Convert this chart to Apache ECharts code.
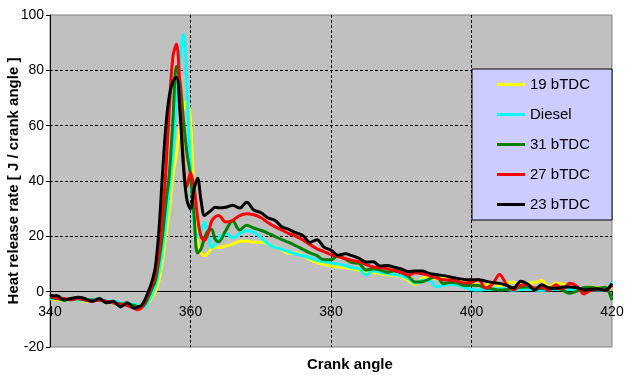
<!DOCTYPE html>
<html>
<head>
<meta charset="utf-8">
<script src="https://cdn.jsdelivr.net/npm/echarts@6/dist/echarts.min.js"></script>
<style>
  html, body { margin: 0; padding: 0; background: #fff; }
  #main { width: 641px; height: 377px; }
</style>
</head>
<body>
<div id="main"></div>
<script>
var chartDom = document.getElementById('main');
var myChart = echarts.init(chartDom);
var option;

// crank angle (deg) shared by all series
let angles = [
  340, 341, 342, 343, 344, 345, 346, 347, 348, 349, 350, 351, 352,
  352.5, 353, 353.5, 354, 354.5, 355, 355.5, 356, 356.5, 357, 357.5, 358,
  358.5, 359, 359.5, 360, 360.5, 361, 361.5, 362, 362.5, 363, 363.5, 364,
  365, 366, 367, 368, 369, 370, 371, 372, 373, 374, 375, 376, 377, 378, 379,
  380, 381, 382, 383, 384, 385, 386, 387, 388, 389, 390, 391, 392, 393, 394,
  395, 396, 397, 398, 399, 400, 401, 402, 403, 404, 405, 406, 407, 408, 409,
  410, 411, 412, 413, 414, 415, 416, 417, 418, 419, 420
];

let names = ['19 bTDC', 'Diesel', '31 bTDC', '27 bTDC', '23 bTDC'];
let colors = ['#FFFF00', '#00FFFF', '#008000', '#FF0000', '#000000'];

let hrr19 = [
  -2.5, -3, -3, -3, -3, -3.5, -3.5, -3, -3.5, -4, -4, -4.5, -4.5,
  -5, -5, -5, -4, -2, 0, 4, 11, 20, 30, 42, 50, 60, 66, 69, 62, 35, 18, 14, 13, 14, 15.5, 16, 16,
  16.5, 17.2, 18.2, 18.3, 17.9, 17.9, 17.2, 16.2, 15.1, 13.8, 14.1, 13, 11.6, 10.5, 9.8,
  9.3, 9.0, 8.6, 8.3, 7.7, 7.1, 6.8, 6.5, 6.1, 5.8, 5.4, 4.0, 2.5, 5.0, 5.3,
  4.6, 5.0, 4.8, 4.3, 3.5, 2.9, 2.4, 2.4, 2.6, 2.0, 3.3, 3.4, 3.0, 3.0, 3.3,
  4.0, 1.9, 3.0, 2.8, 1.5, 0.6, 0.9, 1.7, 1.4, 1.1, 1.5
];
let hrrDiesel = [
  -2.5, -2.5, -3, -3, -3, -3, -3, -2.5, -3.5, -3.5, -4, -4.5, -4.5,
  -5, -5.5, -5.5, -3.5, -1, 2, 7, 15, 25, 37, 50, 70, 84, 93, 74, 45, 25, 20, 22, 25, 21, 16, 17, 19.5,
  21, 19.5, 21, 22, 21.5, 19.6, 17.3, 16, 15.3, 14.4, 13.6, 13, 12.2, 11.3, 10.8,
  10.4, 10, 9.4, 8.7, 8.3, 6.0, 7.6, 7.0, 6.5, 6.2, 5.7, 4.8, 3.0, 4.1, 4.0,
  1.8, 2.3, 2.6, 2.4, 1.6, 0.8, 0.6, 0.8, 0.9, 1.1, 0.8, 0.5, 0.8, 1.0, 0.6,
  0.5, 0.7, 0.8, 0.9, 0.8, 0.6, 0.7, 0.7, 0.6, 0.5, 3.3
];
let hrr31 = [
  -2, -2.5, -3, -2.5, -2.5, -3, -3, -3, -3.5, -4, -4.5, -4.5, -5,
  -5.5, -5.5, -4.5, -2, 1, 4, 11, 20, 32, 43, 62, 81.5, 76, 62, 50, 42, 28, 14, 15.5, 19.5, 22, 22.5, 19, 18,
  22, 25.5, 22.3, 24, 23, 22.2, 21.2, 20, 18.8, 17.8, 16.6, 15.3, 14, 13, 11.5,
  11.5, 13, 11.8, 10.5, 10.2, 7.8, 8.2, 7.8, 7.0, 7.6, 7.0, 5.5, 3.5, 3.6, 4.6,
  5.7, 2.9, 3.4, 3.0, 2.2, 2.3, 2.2, 1.4, 1.0, 0.6, 0.8, 1.3, 1.6, 1.7, 1.3,
  1.1, 1.5, 1.5, 0.5, -0.6, 0.2, 1.5, 1.6, 1.2, 1.6, -3
];
let hrr27 = [
  -1, -2.5, -2.5, -3, -2.5, -3, -3.5, -3, -3.5, -4, -4.5, -5, -6,
  -6.5, -6, -4, -1, 2, 6, 14, 27, 44, 67, 85, 89.5, 72, 47, 38, 43, 38, 27, 20, 18.5, 21, 25.5, 27, 27.5,
  25.2, 25.8, 27.5, 28.2, 27.8, 26.8, 25, 23.5, 22.3, 21, 20, 18.7, 17, 15.5, 14.5,
  13.4, 12.7, 12, 11.3, 10.8, 9.8, 8.9, 8.6, 8.3, 7.6, 6.9, 6.0, 6.8, 6.5, 5.9,
  5, 4.3, 4.2, 3.8, 3.1, 3.4, 4.4, 1.3, 2.8, 6.2, 2.6, 0.7, 2.3, 2.5, 1.2,
  1.6, 0.5, 2.5, 1.0, 3.0, 2.0, -0.8, 0.5, 1.0, 0.5, 2.3
];
let hrr23 = [
  -1.5, -1.5, -3, -2.5, -2, -2.5, -3.5, -2.5, -4, -3.5, -5.5, -4, -6,
  -5.5, -5, -3, 0, 3.5, 9, 22, 42, 60, 71, 76, 77.5, 65, 45, 33, 30, 37, 41, 33, 27.5, 28.5, 29.5, 30.5, 30.3,
  30.5, 31.2, 30.2, 32.3, 29.5, 28.6, 26.7, 25.8, 23.5, 22.5, 21.3, 20.3, 17.8, 18.8, 16.1,
  15, 13.2, 13.7, 13, 12, 10.7, 10.8, 9.3, 9.5, 8.8, 8.2, 7.3, 7.5, 7.5, 6.6,
  6.2, 5.8, 5.3, 4.8, 4.4, 4.3, 4.3, 3.8, 3.3, 3.0, 2.3, 1.3, 3.8, 2.8, 0.6,
  2.5, 1.3, 1.1, 1.7, 1.7, 1.4, 0.7, 0.9, 1.0, 0.5, 2.9
];
let seriesValues = [hrr19, hrrDiesel, hrr31, hrr27, hrr23];

let font = 'Liberation Sans, Arial, sans-serif';

function pairs(values) {
  return angles.map(function (a, i) { return [a, values[i]]; });
}

option = {
  animation: false,
  textStyle: { fontFamily: font },
  title: {
    text: 'Crank angle',
    left: 307,
    top: 357,
    padding: 0,
    textStyle: { fontFamily: font, fontSize: 15, fontWeight: 'bold', color: '#000' }
  },
  grid: {
    left: 50,
    right: 29,
    top: 15,
    bottom: 30,
    outerBoundsMode: 'none',
    containLabel: false,
    show: true,
    backgroundColor: '#C0C0C0',
    borderColor: '#808080',
    borderWidth: 1
  },
  legend: {
    data: names,
    orient: 'vertical',
    left: 472,
    top: 69,
    padding: [8, 22, 8, 25],
    itemGap: 15,
    itemWidth: 28,
    itemHeight: 14,
    icon: 'path://M0,0 L28,0 L28,3 L0,3 Z',
    backgroundColor: '#CCCCFF',
    borderColor: '#000',
    borderWidth: 1,
    borderRadius: 0,
    textStyle: { fontFamily: font, fontSize: 15, color: '#000' }
  },
  xAxis: {
    type: 'value',
    min: 340,
    max: 420,
    interval: 20,
    axisLine: { onZero: true, lineStyle: { color: '#000', width: 1 } },
    axisTick: { show: true, length: 4, lineStyle: { color: '#000' } },
    axisLabel: { fontFamily: font, fontSize: 14, color: '#000', margin: -42 },
    splitLine: {
      show: true,
      showMinLine: false,
      showMaxLine: false,
      lineStyle: { color: '#000', type: [3, 2], width: 1 }
    }
  },
  yAxis: {
    type: 'value',
    min: -20,
    max: 100,
    interval: 20,
    name: 'Heat release rate [ J / crank angle ]',
    nameLocation: 'middle',
    nameGap: 29,
    nameMoveOverlap: false,
    nameTextStyle: { fontFamily: font, fontSize: 15, fontWeight: 'bold', color: '#000' },
    axisLine: { show: true, lineStyle: { color: '#000', width: 1 } },
    axisTick: { show: true, length: 4, lineStyle: { color: '#000' } },
    axisLabel: { fontFamily: font, fontSize: 14, color: '#000', margin: 6 },
    splitLine: {
      show: true,
      showMinLine: false,
      showMaxLine: false,
      lineStyle: { color: '#000', type: [3, 2], width: 1 }
    }
  },
  series: seriesValues.map(function (vals, i) {
    return {
      name: names[i],
      type: 'line',
      data: pairs(vals),
      symbol: 'none',
      smooth: 0.35,
      color: colors[i],
      lineStyle: { width: 3, color: colors[i] }
    };
  })
};

option && myChart.setOption(option);
</script>
</body>
</html>
